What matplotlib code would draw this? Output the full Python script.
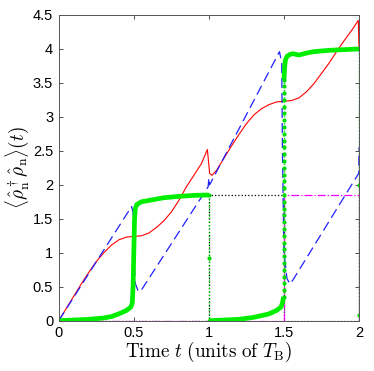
import numpy as np
import matplotlib.pyplot as plt

plt.rcParams['mathtext.fontset'] = 'cm'
plt.rcParams['font.family'] = ['Liberation Sans', 'DejaVu Sans']

# red solid curve (t, value)
red_t = [0, 0.05, 0.1, 0.15, 0.2, 0.25, 0.3, 0.35, 0.4, 0.45, 0.5, 0.55, 0.6, 0.65, 0.7,
         0.75, 0.8, 0.85, 0.9, 0.95, 0.99, 1.005, 1.02, 1.05, 1.1, 1.15, 1.2, 1.25, 1.3,
         1.35, 1.4, 1.45, 1.5, 1.55, 1.6, 1.65, 1.7, 1.75, 1.8, 1.85, 1.9, 1.95, 1.995, 2.0]
red_y = [0, 0.18, 0.36, 0.54, 0.71, 0.87, 1.0, 1.11, 1.19, 1.23, 1.24, 1.25, 1.29, 1.37, 1.47,
         1.6, 1.77, 1.97, 2.14, 2.31, 2.52, 2.17, 2.14, 2.21, 2.39, 2.57, 2.74, 2.9, 3.03,
         3.12, 3.18, 3.22, 3.23, 3.24, 3.28, 3.37, 3.49, 3.64, 3.79, 3.96, 4.12, 4.27, 4.42, 4.0]

# blue dashed curve
blue_t = [0, 0.485, 0.495, 0.5, 0.51, 0.53, 0.55, 0.995, 1.0, 1.005, 1.47, 1.485, 1.49, 1.5,
          1.52, 1.54, 1.56, 1.998, 2.0]
blue_y = [0, 1.68, 1.6, 1.0, 0.55, 0.43, 0.45, 1.97, 2.1, 2.0, 3.96, 3.8, 2.5, 1.0,
          0.62, 0.54, 0.6, 2.17, 2.55]

# green thick curve, smooth branches
green1_t = [0, 0.1, 0.2, 0.3, 0.35, 0.4, 0.45, 0.48, 0.49, 0.495, 0.5, 0.505, 0.51, 0.52,
            0.55, 0.6, 0.7, 0.8, 0.9, 1.0]
green1_y = [0, 0.01, 0.02, 0.04, 0.06, 0.1, 0.15, 0.2, 0.26, 0.5, 1.0, 1.5, 1.65, 1.71,
            1.75, 1.77, 1.81, 1.83, 1.845, 1.85]
green2_t = [1.0, 1.1, 1.2, 1.3, 1.4, 1.45, 1.48, 1.49, 1.497]
green2_y = [0.0, 0.01, 0.02, 0.05, 0.1, 0.15, 0.2, 0.26, 0.35]
green3_t = [1.5, 1.505, 1.51, 1.52, 1.54, 1.56, 1.6, 1.65, 1.7, 1.8, 1.9, 2.0]
green3_y = [3.55, 3.75, 3.84, 3.89, 3.92, 3.93, 3.91, 3.94, 3.96, 3.98, 3.99, 4.0]
# green sparse samples along the jumps
gdrop1_t = [1.0, 1.0, 1.0]
gdrop1_y = [1.85, 0.93, 0.0]
gdrop2_y = [0.35, 0.45, 0.55, 0.65, 0.75, 0.85, 0.95, 1.05, 1.15, 1.25, 1.35, 1.45, 1.55,
            1.65, 1.75, 1.85, 1.95, 2.05, 2.15, 2.25, 2.35, 2.45, 2.55, 2.65, 2.75, 2.85,
            2.95, 3.05, 3.15, 3.25, 3.35, 3.45, 3.55]
gdrop2_t = [1.5] * len(gdrop2_y)
gdrop3_t = [2.0, 2.0, 2.0]
gdrop3_y = [4.0, 2.0, 0.08]

# black dotted step
black_t = [0, 1.0, 1.0, 1.5, 1.5, 2.0, 2.0]
black_y = [0, 0, 1.85, 1.85, 0, 0, 4.0]

# magenta dash-dot step
mag_t = [0, 1.5, 1.5, 2.0, 2.0]
mag_y = [0, 0, 1.85, 1.85, 0]

fig = plt.figure(figsize=(3.74, 3.71), dpi=100)
ax = fig.add_axes([0.157, 0.1356, 0.803, 0.824])

ax.plot(black_t, black_y, color='black', linestyle=':', linewidth=0.9)
ax.plot(mag_t, mag_y, color='#ff00ff', linestyle='-.', linewidth=0.9)
ax.plot(red_t, red_y, color='red', linewidth=0.8)
ax.plot(blue_t, blue_y, color='#2020ff', linestyle=(0, (8, 4)), linewidth=0.9)
for gt, gy in [(green1_t, green1_y), (green2_t, green2_y), (green3_t, green3_y)]:
    ax.plot(gt, gy, color='#00ee00', linewidth=3.4, solid_capstyle='butt')
for gt, gy in [(gdrop1_t, gdrop1_y), (gdrop2_t, gdrop2_y), (gdrop3_t, gdrop3_y)]:
    ax.plot(gt, gy, color='#00dd00', linestyle=':', linewidth=1, marker='.', markersize=4)

ax.set_xlim(0, 2)
ax.set_ylim(0, 4.5)
ax.set_xticks([0, 0.5, 1, 1.5, 2])
ax.set_xticklabels(['0', '0.5', '1', '1.5', '2'])
ax.set_yticks(np.arange(0, 4.51, 0.5))
ax.set_yticklabels(['0', '0.5', '1', '1.5', '2', '2.5', '3', '3.5', '4', '4.5'])
ax.tick_params(direction='in', top=True, right=True, length=3, width=0.6,
               labelsize=10.5, colors='#333333', labelcolor='black', pad=4)
for sp in ax.spines.values():
    sp.set_color('#555555')
    sp.set_linewidth(0.7)

ax.set_xlabel(r'$\mathrm{Time}\ t\ (\mathrm{units\ of}\ T_\mathrm{B})$', fontsize=13.8, labelpad=0)
ax.set_ylabel(r'$\langle\hat{\rho}_\mathrm{n}^\dagger\hat{\rho}_\mathrm{n}\rangle(t)$',
              fontsize=13.8, labelpad=1)

fig.savefig('out.png', dpi=100)
